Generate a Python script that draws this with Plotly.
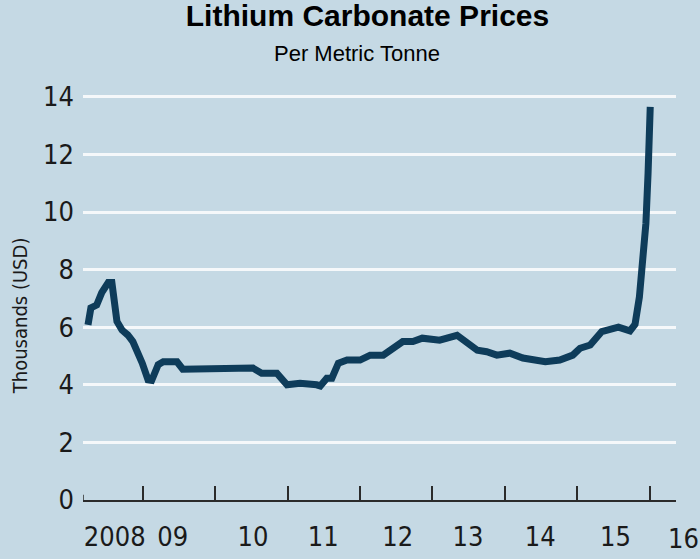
import plotly.graph_objects as go

# price series (decimal year, thousands USD per tonne)
years = [2008.24, 2008.28, 2008.36, 2008.43, 2008.52, 2008.57, 2008.64, 2008.71,
         2008.79, 2008.86, 2008.99, 2009.07, 2009.12, 2009.21, 2009.28, 2009.47,
         2009.55, 2010.23, 2010.31, 2010.52, 2010.64, 2010.85, 2010.99, 2011.17,
         2011.40, 2011.45, 2011.54, 2011.61, 2011.70, 2011.82, 2012.00, 2012.14,
         2012.32, 2012.48, 2012.59, 2012.73, 2012.86, 2013.10, 2013.34, 2013.62,
         2013.75, 2013.89, 2014.07, 2014.25, 2014.45, 2014.56, 2014.76, 2014.86,
         2014.94, 2015.04, 2015.18, 2015.34, 2015.57, 2015.73, 2015.80, 2015.86,
         2015.91, 2015.95, 2015.98, 2016.01]
prices = [6.08, 6.67, 6.77, 7.20, 7.55, 7.55, 6.20, 5.90,
          5.73, 5.50, 4.75, 4.17, 4.15, 4.70, 4.80, 4.80,
          4.54, 4.54, 4.60, 4.58, 4.40, 4.40, 4.00, 4.05,
          4.00, 3.96, 4.23, 4.23, 4.75, 4.86, 4.86, 5.03,
          5.03, 5.30, 5.50, 5.50, 5.62, 5.55, 5.72, 5.20,
          5.15, 5.03, 5.10, 4.93, 4.86, 4.80, 4.86, 4.97,
          5.03, 5.27, 5.38, 5.85, 6.00, 5.87, 6.10, 7.05,
          8.44, 9.60, 11.35, 13.65]

year_ticks = [2009, 2010, 2011, 2012, 2013, 2014, 2015, 2016]
label_pos = [2008.61, 2009.41, 2010.52, 2011.49, 2012.52, 2013.49, 2014.49, 2015.53]
label_text = ['2008', '09', '10', '11', '12', '13', '14', '15']
last_label_pos = 2016.47
last_label = '16'
y_ticks = [0, 2, 4, 6, 8, 10, 12, 14]
grid_vals = [2, 4, 6, 8, 10, 12, 14]

x_range = [2008.171, 2016.366]
y_range = [0, 14.514]

bg = '#c5d9e4'
line_color = '#0e3c5a'
axis_color = '#2b2b2b'
tick_font = dict(family='DejaVu Sans Condensed, DejaVu Sans, sans-serif', size=27, color='#1a1a1a')
text_font = 'Liberation Sans, Arial, sans-serif'

fig = go.Figure()
fig.add_trace(go.Scatter(x=years, y=prices, mode='lines',
                         line=dict(color=line_color, width=7),
                         hoverinfo='skip', showlegend=False))

fig.update_layout(
    width=700, height=559,
    margin=dict(l=83, r=24, t=82, b=59),
    paper_bgcolor=bg, plot_bgcolor=bg,
    title=dict(text='<b>Lithium Carbonate Prices</b>', x=0.525, xref='container', xanchor='center',
               y=0.972, yref='container', yanchor='middle',
               font=dict(family=text_font, size=30, color='#000000')),
    xaxis=dict(range=x_range, automargin=False, showline=True, linecolor=axis_color, linewidth=1.5,
               showgrid=False, zeroline=False,
               tickmode='array', tickvals=label_pos, ticktext=label_text, ticks='',
               tickfont=tick_font, ticklabelstandoff=12,
               minor=dict(tickmode='array', tickvals=year_ticks, ticks='inside', ticklen=14,
                          tickwidth=1.5, tickcolor=axis_color, showgrid=False)),
    yaxis=dict(range=y_range, automargin=False, showline=False, showgrid=False, zeroline=False,
               tickmode='array', tickvals=y_ticks, ticks='',
               tickfont=tick_font, ticklabelstandoff=8,
               minor=dict(tickmode='array', tickvals=grid_vals, ticks='', showgrid=True,
                          gridcolor='#f5f8fa', gridwidth=3)),
)

fig.add_annotation(text='Per Metric Tonne', xref='paper', yref='paper', x=0.462, y=1.067,
                   xanchor='center', yanchor='middle', showarrow=False,
                   font=dict(family=text_font, size=22, color='#000000'))
fig.add_annotation(text='Thousands (USD)', xref='paper', yref='paper', x=-0.106, y=0.44,
                   textangle=-90, xanchor='center', yanchor='middle', showarrow=False,
                   font=dict(family='DejaVu Sans Condensed, DejaVu Sans, sans-serif', size=20,
                             color='#1a1a1a'))
# the "16" label sits past the end of the axis, so place it in paper units
last_x = (last_label_pos - x_range[0]) / (x_range[1] - x_range[0])
fig.add_annotation(text=last_label, xref='paper', yref='paper', x=last_x, y=0,
                   xanchor='center', yanchor='top', yshift=-21, showarrow=False,
                   font=tick_font)

# short upturn at the left end of the x axis
fig.add_shape(type='line', xref='x', yref='y', x0=x_range[0], x1=x_range[0], y0=0, y1=0.18,
              line=dict(color=axis_color, width=1.5))

# drop the default page margin so the figure sits flush in the window
fig.write_html('out.html', config={'displayModeBar': False},
               post_script="document.body.style.margin='0';")
